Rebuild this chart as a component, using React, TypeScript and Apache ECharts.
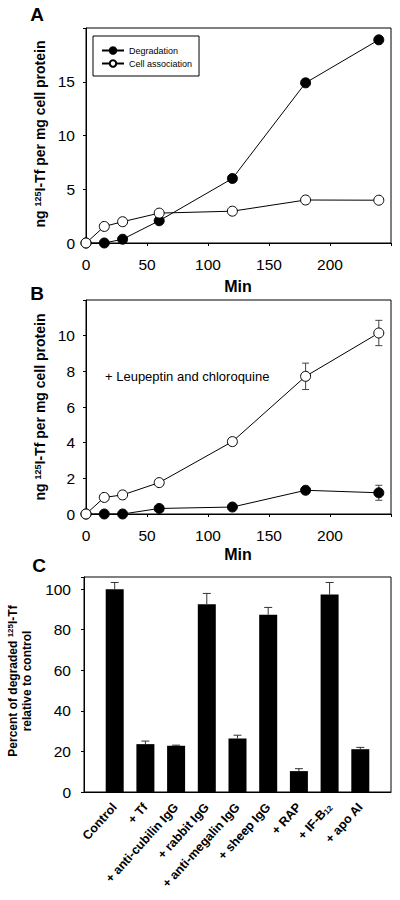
import React, { useEffect, useRef } from 'react';
import * as echarts from 'echarts';

// ---------- data ----------
const timesMin = [0, 15, 30, 60, 120, 180, 240];

const aDegradation = [0, 0, 0.35, 2.07, 6.0, 14.9, 18.9];
const aCellAssociation = [0, 1.54, 1.98, 2.78, 2.96, 4.0, 3.98];

const bDegradation = [0, 0, 0, 0.31, 0.39, 1.33, 1.19];
const bDegradationErr = [0, 0, 0, 0, 0, 0, 0.42];
const bCellAssociation = [0, 0.93, 1.07, 1.76, 4.06, 7.72, 10.15];
const bCellAssociationErr = [0, 0, 0, 0, 0, 0.74, 0.71];

const cCategories = [
  'Control',
  '+ Tf',
  '+ anti-cubilin IgG',
  '+ rabbit IgG',
  '+ anti-megalin IgG',
  '+ sheep IgG',
  '+ RAP',
  '+ IF-B12',
  '+ apo AI',
];
const cValues = [100, 23.6, 22.8, 92.6, 26.4, 87.4, 10.3, 97.4, 21.1];
const cErrors = [3.3, 1.5, 0.3, 5.3, 1.6, 3.6, 1.2, 5.9, 0.9];

const aXTicks = { min: 0, max: 250, interval: 50, lastLabel: 200 };
const aYTicks = { min: 0, max: 20, interval: 5, lastLabel: 15 };
const bYTicks = { min: 0, max: 12, interval: 2, lastLabel: 10 };
const cYTicks = { min: 0, max: 106, interval: 20, lastLabel: 100 };

const legendNames = ['Degradation', 'Cell association'];
const noteText = '+ Leupeptin and chloroquine';

// ---------- helpers ----------
const FONT = '"Liberation Sans", Arial, Helvetica, sans-serif';
const zip = (xs: number[], ys: number[]) => xs.map((x, i) => [x, ys[i]]);

function tickFormatter(cfg: { interval: number; lastLabel: number }) {
  return (v: number) => (v <= cfg.lastLabel && v % cfg.interval === 0 ? String(v) : '');
}

function valueXAxis(gridIndex: number) {
  return {
    gridIndex,
    type: 'value',
    min: aXTicks.min,
    max: aXTicks.max,
    interval: aXTicks.interval,
    axisLine: { show: true, onZero: false, lineStyle: { color: '#000', width: 1 } },
    axisTick: { show: true, length: 3, lineStyle: { color: '#000' } },
    splitLine: { show: false },
    axisLabel: {
      fontSize: 15.5,
      color: '#000',
      fontFamily: FONT,
      margin: 13,
      formatter: tickFormatter(aXTicks),
    },
  };
}

function valueYAxis(gridIndex: number, cfg: any, margin = 11) {
  return {
    gridIndex,
    type: 'value',
    min: cfg.min,
    max: cfg.max,
    interval: cfg.interval,
    axisLine: { show: true, onZero: false, lineStyle: { color: '#000', width: 1 } },
    axisTick: { show: true, length: 3, lineStyle: { color: '#000' } },
    splitLine: { show: false },
    axisLabel: {
      fontSize: 15.5,
      color: '#000',
      fontFamily: FONT,
      margin,
      showMaxLabel: true,
      formatter: tickFormatter(cfg),
    },
  };
}

const filledMarker = {
  symbol: 'circle',
  symbolSize: 10,
  itemStyle: { color: '#000', borderColor: '#000', borderWidth: 1 },
  lineStyle: { color: '#000', width: 1 },
};
const openMarker = {
  symbol: 'circle',
  symbolSize: 10,
  itemStyle: { color: '#fff', borderColor: '#000', borderWidth: 1 },
  lineStyle: { color: '#000', width: 1 },
};

function errorBarSeries(
  xAxisIndex: number,
  yAxisIndex: number,
  xs: number[],
  ys: number[],
  errs: number[],
  both: boolean,
  capHalf: number,
  color: string
) {
  const data = xs.map((x, i) => [x, ys[i], errs[i]]).filter((d) => d[2] > 0);
  return {
    type: 'custom',
    xAxisIndex,
    yAxisIndex,
    silent: true,
    z: 1,
    data,
    encode: { x: 0, y: 1 },
    renderItem: (_params: any, api: any) => {
      const x = api.value(0);
      const y = api.value(1);
      const e = api.value(2);
      const top = api.coord([x, y + e]);
      const bot = api.coord([x, both ? y - e : y]);
      const style = { stroke: color, lineWidth: 1 };
      const children: any[] = [
        { type: 'line', shape: { x1: top[0], y1: top[1], x2: bot[0], y2: bot[1] }, style },
        { type: 'line', shape: { x1: top[0] - capHalf, y1: top[1], x2: top[0] + capHalf, y2: top[1] }, style },
      ];
      if (both) {
        children.push({
          type: 'line',
          shape: { x1: bot[0] - capHalf, y1: bot[1], x2: bot[0] + capHalf, y2: bot[1] },
          style,
        });
      }
      return { type: 'group', children };
    },
  };
}

const yTitleRich = {
  sup: { fontSize: 9, fontWeight: 'bold', fontFamily: FONT, color: '#000', verticalAlign: 'top', lineHeight: 10 },
};

function text(x: number, y: number, str: string, size: number, extra: any = {}) {
  return {
    type: 'text',
    x,
    y,
    rotation: extra.rotation || 0,
    style: {
      text: str,
      fontSize: size,
      fontWeight: extra.fontWeight || 'bold',
      fontFamily: FONT,
      fill: '#000',
      align: extra.align || 'center',
      verticalAlign: 'middle',
      lineHeight: extra.lineHeight,
      rich: extra.rich,
    },
  };
}

export default function App() {
  const ref = useRef<HTMLDivElement>(null);

  useEffect(() => {
    document.body.style.margin = '0';
    if (!ref.current) return;
    const chart = echarts.init(ref.current, undefined, { renderer: 'svg' });

    const option: any = {
      animation: false,
      backgroundColor: '#fff',
      textStyle: { fontFamily: FONT },
      grid: [
        { left: 86, top: 28, width: 305, height: 215, show: true, borderColor: '#000', borderWidth: 1, backgroundColor: 'transparent' },
        { left: 86, top: 300, width: 305, height: 214, show: true, borderColor: '#000', borderWidth: 1, backgroundColor: 'transparent' },
        { left: 84, top: 577, width: 307, height: 215, show: true, borderColor: '#000', borderWidth: 1, backgroundColor: 'transparent' },
      ],
      legend: {
        data: legendNames,
        orient: 'vertical',
        left: 93,
        top: 36,
        itemWidth: 22,
        itemHeight: 8,
        itemGap: 4,
        padding: [10, 7, 8, 8],
        borderColor: '#000',
        borderWidth: 1,
        backgroundColor: '#fff',
        textStyle: { fontSize: 9, color: '#000', fontFamily: FONT },
        selectedMode: false,
      },
      xAxis: [
        valueXAxis(0),
        valueXAxis(1),
        {
          gridIndex: 2,
          type: 'value',
          min: 0,
          max: cCategories.length + 1,
          interval: 1,
          axisLine: { show: true, onZero: false, lineStyle: { color: '#000', width: 1 } },
          axisTick: { show: false },
          splitLine: { show: false },
          axisLabel: {
            rotate: 48,
            fontSize: 12.5,
            fontWeight: 'bold',
            color: '#000',
            fontFamily: FONT,
            margin: 13,
            showMinLabel: true,
            showMaxLabel: true,
            formatter: (v: number) => {
              const s = cCategories[v - 1];
              if (!s) return '';
              return s.replace(/B12$/, 'B{sub|12}');
            },
            rich: {
              sub: { fontSize: 8, fontWeight: 'bold', fontFamily: FONT, color: '#000', verticalAlign: 'bottom', lineHeight: 10 },
            },
          },
        },
      ],
      yAxis: [valueYAxis(0, aYTicks), valueYAxis(1, bYTicks), valueYAxis(2, cYTicks, 13)],
      series: [
        // Panel A
        { name: legendNames[0], type: 'line', xAxisIndex: 0, yAxisIndex: 0, data: zip(timesMin, aDegradation), z: 2, ...filledMarker },
        { name: legendNames[1], type: 'line', xAxisIndex: 0, yAxisIndex: 0, data: zip(timesMin, aCellAssociation), z: 3, ...openMarker },
        // Panel B
        errorBarSeries(1, 1, timesMin, bDegradation, bDegradationErr, true, 3.5, '#444'),
        errorBarSeries(1, 1, timesMin, bCellAssociation, bCellAssociationErr, true, 3.5, '#444'),
        { name: 'B degradation', type: 'line', xAxisIndex: 1, yAxisIndex: 1, data: zip(timesMin, bDegradation), z: 2, ...filledMarker },
        { name: 'B cell association', type: 'line', xAxisIndex: 1, yAxisIndex: 1, data: zip(timesMin, bCellAssociation), z: 3, ...openMarker },
        // Panel C
        {
          name: 'C degraded',
          type: 'bar',
          xAxisIndex: 2,
          yAxisIndex: 2,
          barWidth: 18,
          itemStyle: { color: '#000' },
          data: cValues.map((v, i) => [i + 1, v]),
          z: 2,
        },
        errorBarSeries(2, 2, cValues.map((_, i) => i + 1), cValues, cErrors, false, 4, '#333'),
      ],
      graphic: [
        text(37, 14, 'A', 19),
        text(37, 293, 'B', 19),
        text(39, 565, 'C', 19),
        text(238, 286, 'Min', 16),
        text(238, 554, 'Min', 16),
        text(40, 134, 'ng {sup|125}I-Tf per mg cell protein', 14, { rotation: Math.PI / 2, rich: yTitleRich }),
        text(40, 407, 'ng {sup|125}I-Tf per mg cell protein', 14, { rotation: Math.PI / 2, rich: yTitleRich }),
        text(20, 681, 'Percent of degraded {sup|125}I-Tf\nrelative to control', 12, {
          rotation: Math.PI / 2,
          lineHeight: 14,
          rich: { sup: { fontSize: 8, fontWeight: 'bold', fontFamily: FONT, color: '#000', verticalAlign: 'top', lineHeight: 8 } },
        }),
        text(105, 376, noteText, 13, { fontWeight: 'normal', align: 'left' }),
      ],
    };

    chart.setOption(option);
    return () => chart.dispose();
  }, []);

  return <div ref={ref} style={{ width: 400, height: 900 }} />;
}
